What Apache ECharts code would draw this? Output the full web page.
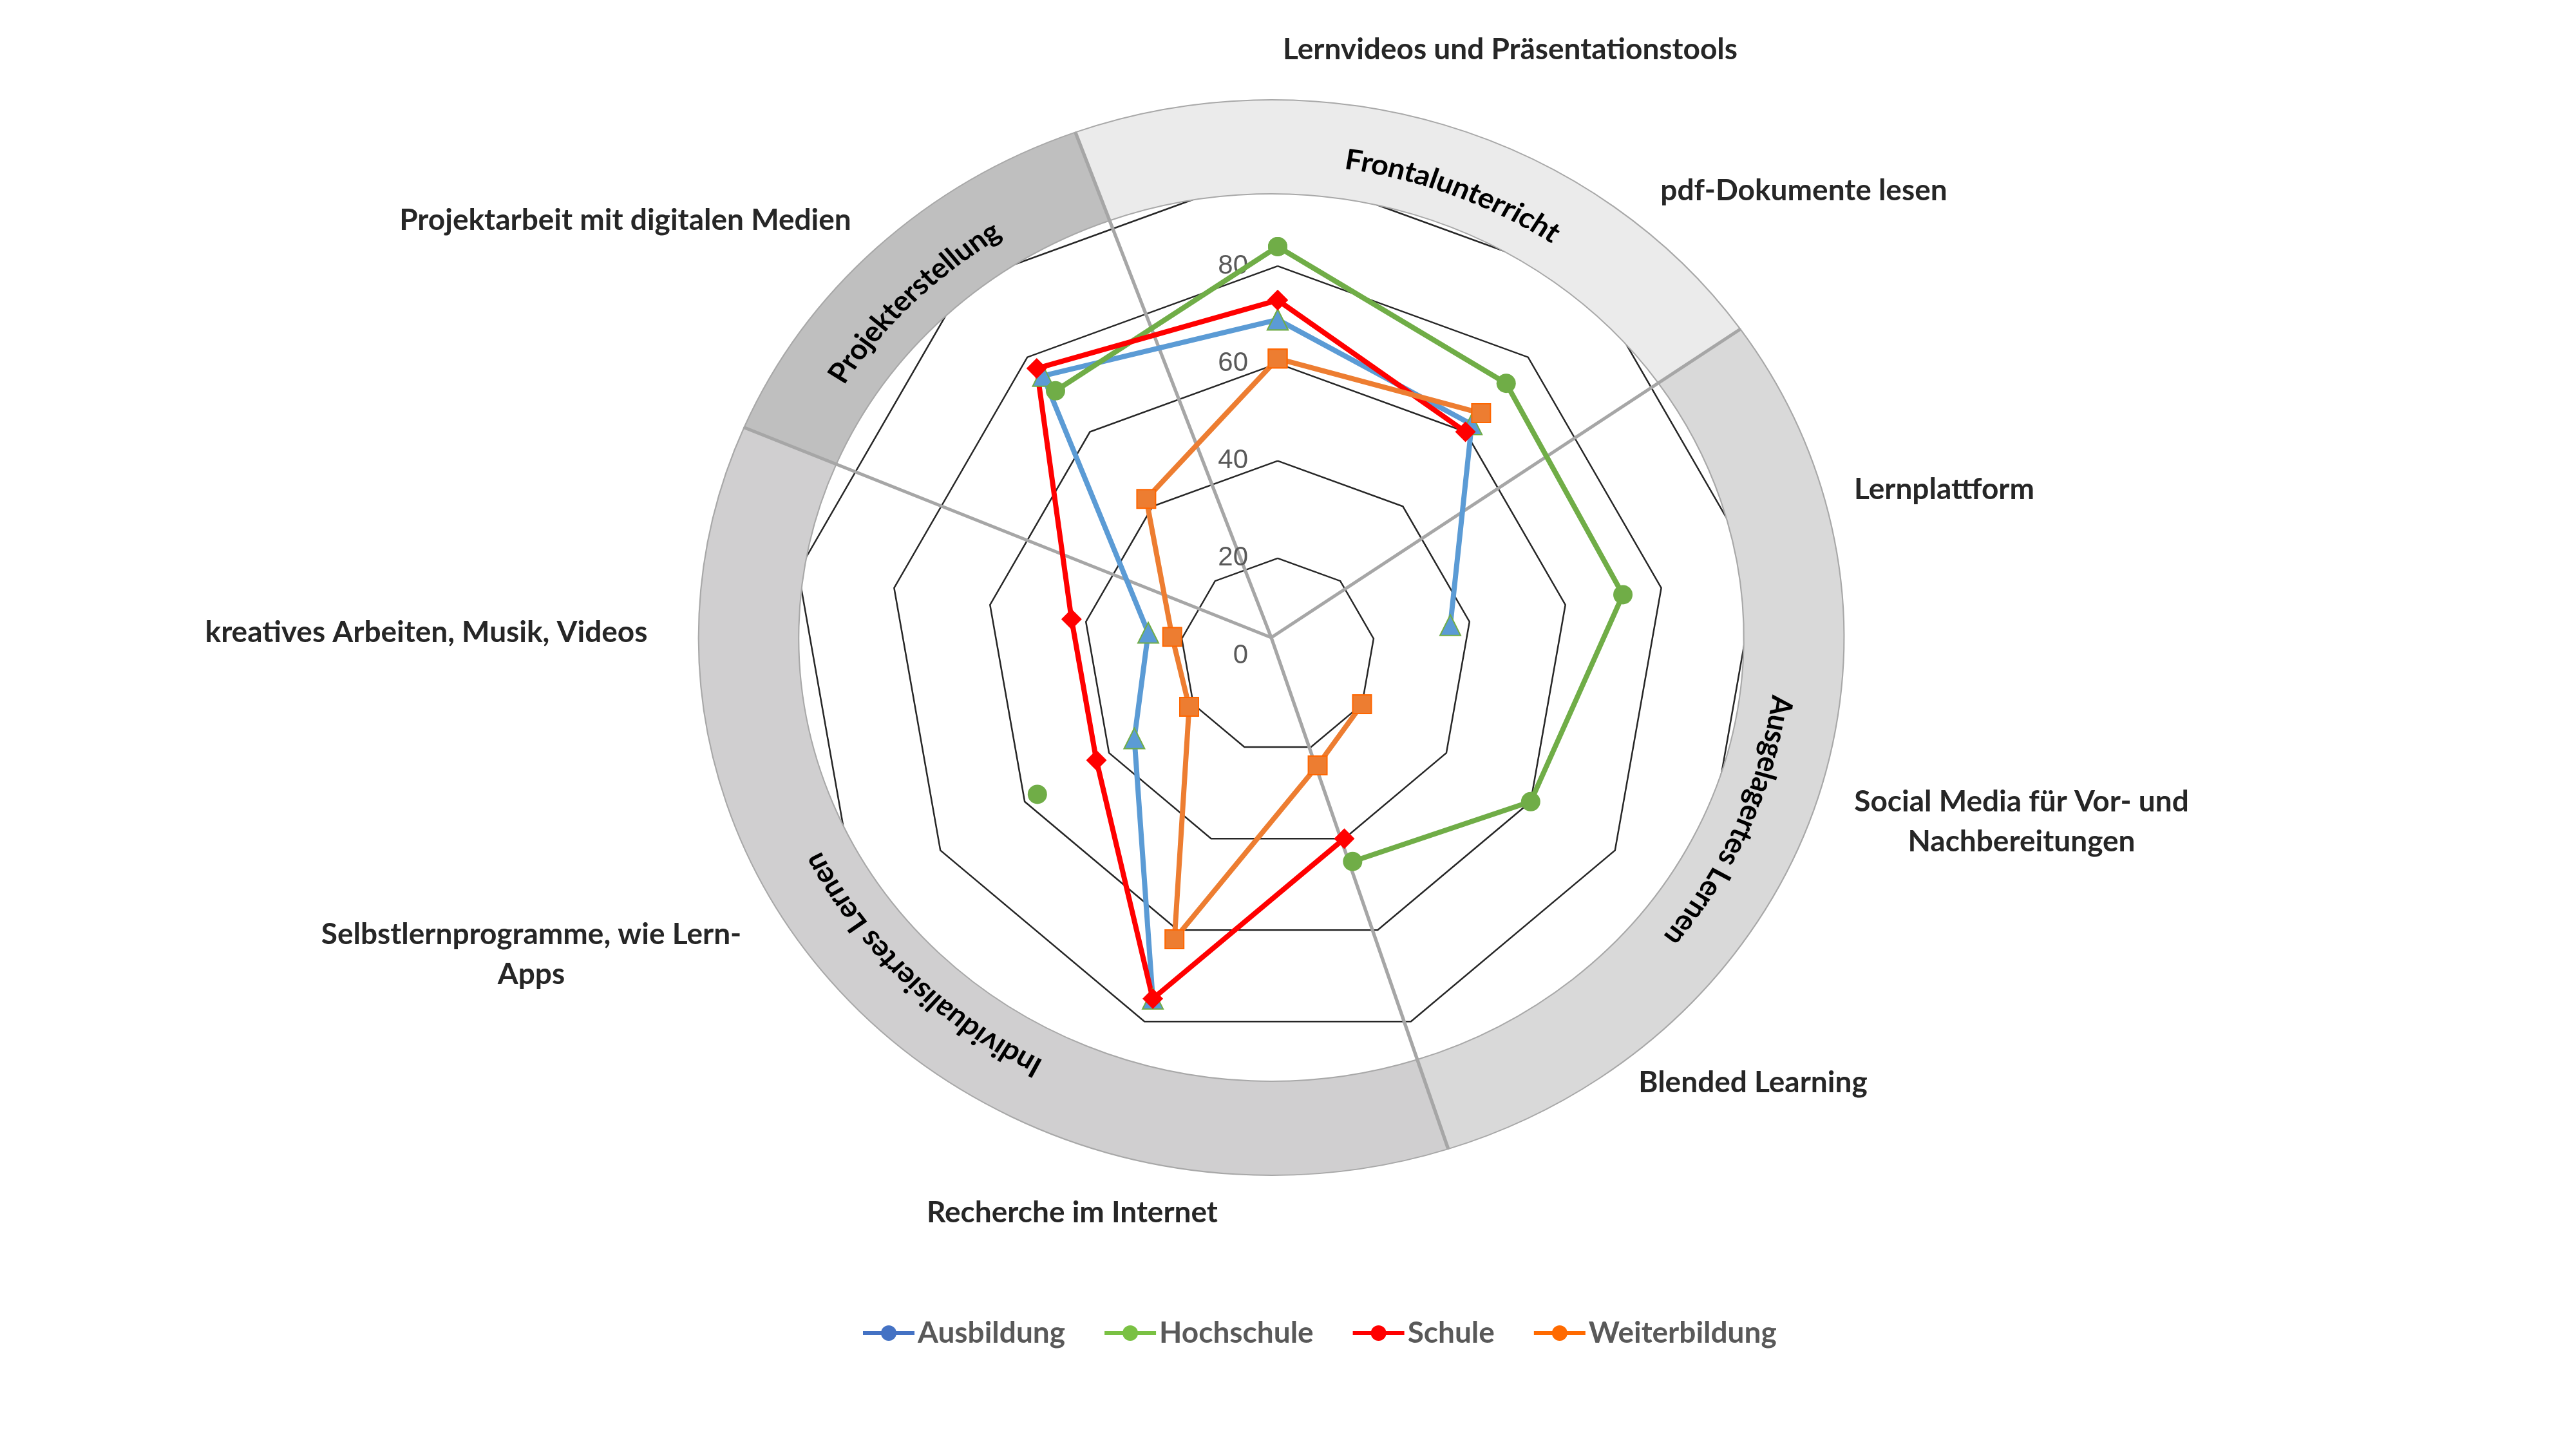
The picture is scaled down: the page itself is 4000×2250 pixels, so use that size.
<!DOCTYPE html>
<html><head><meta charset="utf-8">
<script src="https://cdn.jsdelivr.net/npm/echarts@6/dist/echarts.min.js"></script>
<style>html,body{margin:0;padding:0;background:#fff}#c{width:4000px;height:2250px}</style>
</head><body><div id="c"></div>
<script>
// ---------- data ----------
const categories = [
  'Lernvideos und Präsentationstools',
  'pdf-Dokumente lesen',
  'Lernplattform',
  'Social Media für Vor- und\nNachbereitungen',
  'Blended Learning',
  'Recherche im Internet',
  'Selbstlernprogramme, wie Lern-\nApps',
  'kreatives Arbeiten, Musik, Videos',
  'Projektarbeit mit digitalen Medien'
];
const seriesNames = ['Ausbildung', 'Hochschule', 'Schule', 'Weiterbildung'];
const ausbildung    = [69, 62, 36, null, null, 75, 34, 27, 75];
const hochschule    = [84, 73, 72, 60, 45, null, 57, null, 71];
const schule        = [73, 60, null, null, 40, 75, 43, 43, 77];
const weiterbildung = [61, 65, null, 20, 24, 62, 21, 22, 42];
const radiusTicks = [0, 20, 40, 60, 80, 100];
const groupNames = ['Frontalunterricht', 'Ausgelagertes Lernen', 'Individualisiertes Lernen', 'Projekterstellung'];
const groupSpans = [75, 107, 131, 47]; // degrees of the outer ring
const groupStartAngle = -20;            // compass degrees where the first group starts

// ---------- layout / style ----------
const CENTER = [1984, 1018], RADIUS = 756;
const DONUT = { cx: 1974, cy: 990, r0: 689, r: 835, sx: 1.065 };
const GROUP_COLORS = ['#ebebeb', '#d9d9d9', '#d0cfd0', '#bfbfbf'];
const GROUP_LABEL_ANGLE = [21, 113, 225, 315];
const TEXT_R = 750;
const LABEL_POS = [[2345, 77], [2801, 296], [3019, 760], [3139, 1276], [2722, 1681],
                   [1665, 1883], [825, 1482], [662, 982], [971, 342]];
const SERIES_STYLE = [
  { color: '#5B9BD5', symbol: 'triangle', size: 32, border: '#70AD47', bw: 2, legend: '#4472C4' },
  { color: '#70AD47', symbol: 'circle', size: 30, border: '#70AD47', bw: 0, legend: '#7AC143' },
  { color: '#FF0000', symbol: 'diamond', size: 32, border: '#FF0000', bw: 0, legend: '#FF0000' },
  { color: '#ED7D31', symbol: 'rect', size: 29, border: '#FF6600', bw: 2, legend: '#FF6A00' }
];
const seriesValues = [ausbildung, hochschule, schule, weiterbildung];

const measureCtx = document.createElement('canvas').getContext('2d');
measureCtx.font = 'bold 44px Lato';

function renderGroup(params, api) {
  const i = params.dataIndex;
  let a0 = groupStartAngle;
  for (let k = 0; k < i; k++) a0 += groupSpans[k];
  const a1 = a0 + groupSpans[i];
  const rad = d => (d - 90) * Math.PI / 180;
  const kids = [{
    type: 'sector',
    shape: { cx: 0, cy: 0, r0: DONUT.r0, r: DONUT.r, startAngle: rad(a0), endAngle: rad(a1), clockwise: true },
    style: { fill: GROUP_COLORS[i], stroke: '#a8a8a8', lineWidth: 2 },
    z2: 1
  }, {
    type: 'line',
    shape: { x1: 0, y1: 0, x2: DONUT.r * Math.cos(rad(a0)), y2: DONUT.r * Math.sin(rad(a0)) },
    style: { stroke: '#a6a6a6', lineWidth: 5 },
    z2: 10
  }];
  const text = groupNames[i];
  const chars = Array.from(text);
  const total = measureCtx.measureText(text).width;
  chars.forEach((ch, k) => {
    const p0 = measureCtx.measureText(chars.slice(0, k).join('')).width;
    const p1 = measureCtx.measureText(chars.slice(0, k + 1).join('')).width;
    const s = (p0 + p1) / 2 - total / 2;
    const t = (GROUP_LABEL_ANGLE[i] * Math.PI / 180) + s / TEXT_R;
    kids.push({
      type: 'text',
      x: TEXT_R * Math.sin(t), y: -TEXT_R * Math.cos(t), rotation: -t,
      style: { text: ch, fontSize: 44, fontFamily: 'Lato', fontWeight: 'bold', fill: '#000',
               align: 'center', verticalAlign: 'middle' },
      z2: 20
    });
  });
  return { type: 'group', x: DONUT.cx, y: DONUT.cy, scaleX: DONUT.sx, scaleY: 1, children: kids };
}

function toPolar(vals) {
  const n = categories.length;
  const pts = vals.map((v, i) => [v == null ? '-' : v, i * 360 / n]);
  pts.push([vals[0] == null ? '-' : vals[0], 360]);
  return pts;
}

const chart = echarts.init(document.getElementById('c'), null, { renderer: 'canvas' });

const series = [];
// legend-style carriers (no data)
seriesNames.forEach((n, i) => series.push({
  type: 'line', name: n, coordinateSystem: 'polar', data: [], symbol: 'circle', symbolSize: 24,
  itemStyle: { color: SERIES_STYLE[i].legend }, lineStyle: { color: SERIES_STYLE[i].legend, width: 6 }
}));
// outer ring
series.push({
  type: 'custom', coordinateSystem: 'none', z: 3, silent: true,
  data: groupSpans.map((s, i) => ({ name: groupNames[i], value: s })),
  renderItem: renderGroup
});
// data lines
seriesNames.forEach((n, i) => {
  const st = SERIES_STYLE[i];
  series.push({
    type: 'line', name: n, coordinateSystem: 'polar', z: 5,
    data: toPolar(seriesValues[i]),
    connectNulls: false, showSymbol: true, showAllSymbol: true,
    symbol: st.symbol, symbolSize: st.size,
    lineStyle: { color: st.color, width: 8 },
    itemStyle: { color: st.color, borderColor: st.border, borderWidth: st.bw },
    emphasis: { disabled: true }
  });
});

chart.setOption({
  backgroundColor: '#ffffff',
  animation: false,
  radar: {
    center: CENTER, radius: RADIUS, startAngle: 90, splitNumber: 5, shape: 'polygon',
    indicator: categories.map(c => ({ name: c, min: 0, max: 100 })),
    axisName: { show: false },
    axisLine: { show: false },
    axisTick: { show: false },
    axisLabel: { show: false },
    splitArea: { show: false },
    splitLine: { lineStyle: { color: '#262626', width: 2.5 } },
    z: 1
  },
  polar: { center: CENTER, radius: RADIUS },
  angleAxis: { type: 'value', min: 0, max: 360, startAngle: 90, clockwise: true, show: false },
  radiusAxis: {
    type: 'value', min: 0, max: 100, interval: 20, z: 4,
    axisLine: { show: false }, axisTick: { show: false }, splitLine: { show: false },
    axisLabel: {
      margin: 46, fontSize: 42, fontFamily: 'Liberation Sans', color: '#595959',
      formatter: v => (radiusTicks.indexOf(v) >= 0 && v !== 100) ? String(v) : ''
    }
  },
  legend: {
    data: seriesNames, left: 1332, top: 2042, itemWidth: 80, itemHeight: 30, itemGap: 58,
    lineStyle: { width: 6 },
    textStyle: { fontFamily: 'Lato', fontWeight: 'bold', fontSize: 46, color: '#595959' }
  },
  graphic: categories.map((c, i) => ({
    type: 'text', x: LABEL_POS[i][0], y: LABEL_POS[i][1], z: 10,
    style: { text: c, fontFamily: 'Lato', fontWeight: 'bold', fontSize: 46, fill: '#262626',
             align: 'center', verticalAlign: 'middle', lineHeight: 62 }
  })),
  series: series
});
</script>
</body></html>
